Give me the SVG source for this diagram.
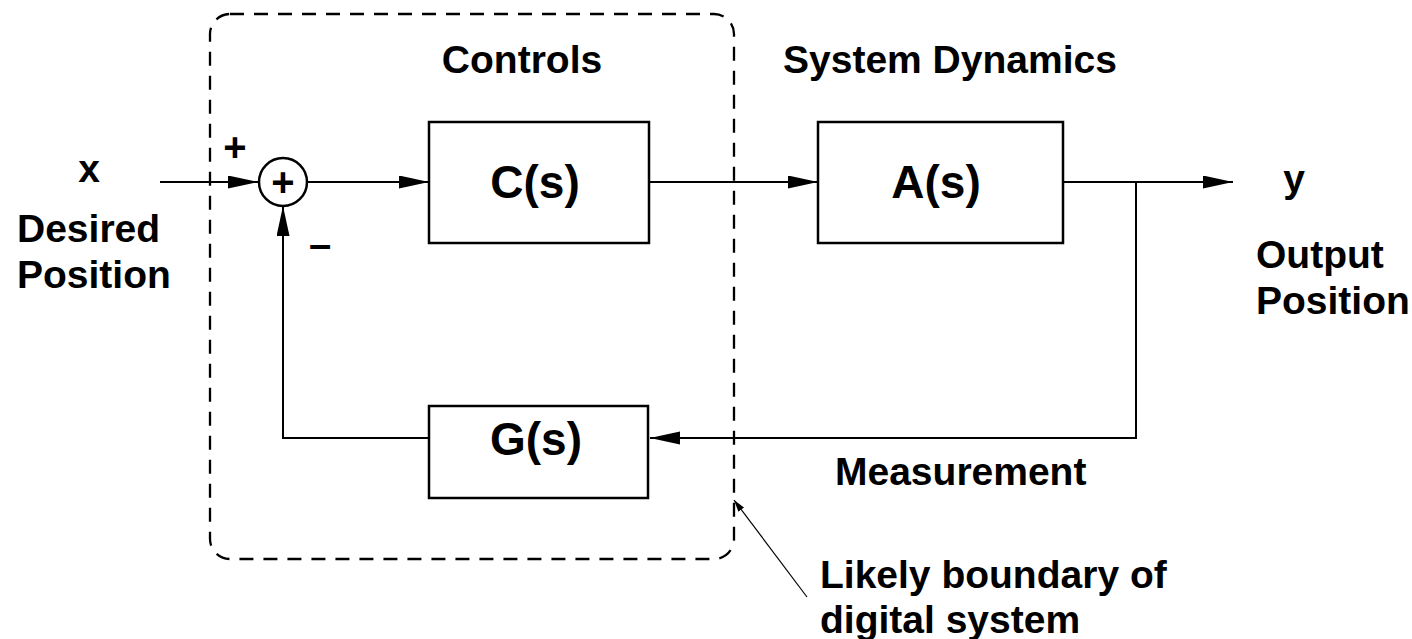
<svg xmlns="http://www.w3.org/2000/svg" width="1412" height="639" viewBox="0 0 1412 639">
<defs>
<style>
text{font-family:"Liberation Sans",Arial,sans-serif;font-weight:bold;fill:#000}
.lbl{font-size:39px}
.blk{font-size:46px;text-anchor:middle}
.box{fill:#fff;stroke:#000;stroke-width:2.5}
.wire{fill:none;stroke:#000;stroke-width:2}
</style>
<marker id="ah" markerUnits="userSpaceOnUse" markerWidth="32" markerHeight="14" refX="30" refY="6.5" orient="auto">
<path d="M0,0 L30,6.5 L0,13 Z" fill="#000"/>
</marker>
<marker id="sa" markerUnits="userSpaceOnUse" markerWidth="14" markerHeight="8" refX="12" refY="4" orient="auto">
<path d="M0,0.5 L12,4 L0,7.5 Z" fill="#000"/>
</marker>
</defs>
<rect width="1412" height="639" fill="#fff"/>
<g id="boundary">
<rect x="210" y="14" width="524" height="545" rx="20" ry="20" fill="none" stroke="#000" stroke-width="2.3" stroke-dasharray="14,10"/>
</g>
<g id="connectors">
<path class="wire" d="M160,182 H258" marker-end="url(#ah)"/>
<path class="wire" d="M307,182 H429" marker-end="url(#ah)"/>
<path class="wire" d="M649,182 H818" marker-end="url(#ah)"/>
<path class="wire" d="M1063,182 H1233" marker-end="url(#ah)"/>
<path class="wire" d="M1136,182 V438 H650" marker-end="url(#ah)"/>
<path class="wire" d="M429,438 H283 V206" marker-end="url(#ah)"/>
<path fill="none" stroke="#000" stroke-width="1.2" d="M807,597 L734,500" marker-end="url(#sa)"/>
</g>
<g id="sum">
<circle cx="283" cy="182" r="24" fill="#fff" stroke="#000" stroke-width="2.5"/>
<text x="283" y="196" style="font-size:40px;text-anchor:middle">+</text>
<text x="235" y="161" style="font-size:40px;text-anchor:middle">+</text>
<text x="320" y="258" style="font-size:40px;text-anchor:middle">–</text>
</g>
<g id="C">
<rect class="box" x="429" y="122" width="220" height="121"/>
<text class="blk" x="535" y="198">C(s)</text>
</g>
<g id="A">
<rect class="box" x="818" y="122" width="245" height="121"/>
<text class="blk" x="936" y="198">A(s)</text>
</g>
<g id="G">
<rect class="box" x="429" y="406" width="219" height="92"/>
<text class="blk" x="536" y="455">G(s)</text>
</g>
<g id="labels">
<text class="lbl" x="89" y="182" text-anchor="middle">x</text>
<text class="lbl" x="17" y="242">Desired</text>
<text class="lbl" x="17" y="288">Position</text>
<text class="lbl" x="1294" y="192" text-anchor="middle">y</text>
<text class="lbl" x="1256" y="268">Output</text>
<text class="lbl" x="1256" y="314">Position</text>
<text class="lbl" x="522" y="73" text-anchor="middle">Controls</text>
<text class="lbl" x="783" y="73">System Dynamics</text>
<text class="lbl" x="835" y="485">Measurement</text>
<text class="lbl" x="820" y="588">Likely boundary of</text>
<text class="lbl" x="820" y="633">digital system</text>
</g>
</svg>
